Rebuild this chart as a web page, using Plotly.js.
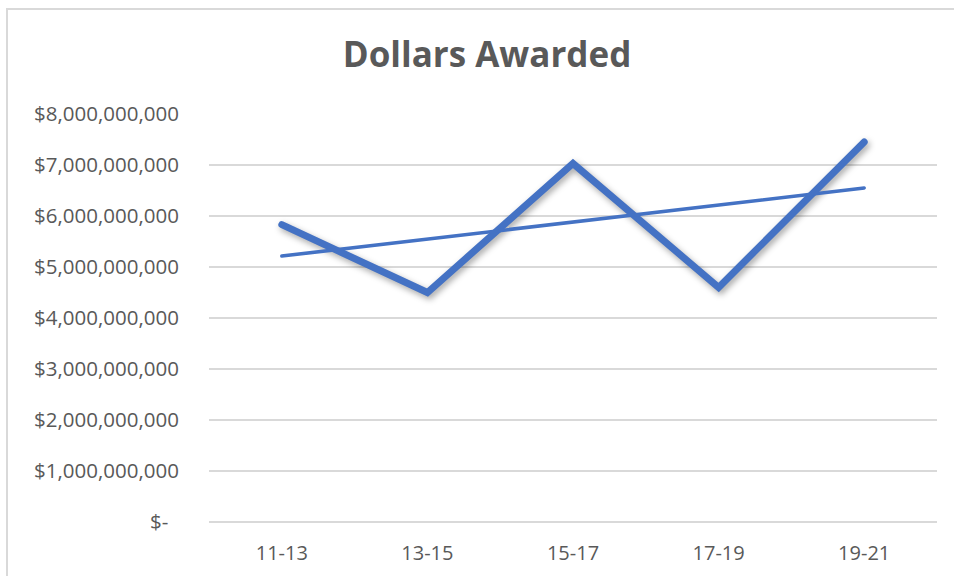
<!DOCTYPE html>
<html>
<head>
<meta charset="utf-8">
<script src="https://cdn.plot.ly/plotly-3.0.1.min.js"></script>
<style>
  html, body { margin: 0; padding: 0; background: #fff; }
  #wrap { position: relative; width: 954px; height: 576px; overflow: hidden; }
  #chart { width: 954px; height: 576px; }
  #frame { position: absolute; left: 6px; top: 8px; width: 960px; height: 600px;
           border-left: 2px solid #d9d9d9; border-top: 2px solid #d9d9d9; pointer-events: none; }
</style>
</head>
<body>
<div id="wrap">
  <div id="chart"></div>
  <div id="frame"></div>
</div>
<script>
// ---- data ----
const periods = ["11-13", "13-15", "15-17", "17-19", "19-21"];
const dollarsAwarded = [5830000000, 4500000000, 7030000000, 4600000000, 7450000000];
const yTickVals = [0, 1e9, 2e9, 3e9, 4e9, 5e9, 6e9, 7e9, 8e9];
const yTickText = ["$-\u00a0\u00a0", "$1,000,000,000", "$2,000,000,000", "$3,000,000,000",
                   "$4,000,000,000", "$5,000,000,000", "$6,000,000,000", "$7,000,000,000",
                   "$8,000,000,000"];

// Linear trendline (least squares, as Excel computes it) from the series
const n = dollarsAwarded.length;
const idx = dollarsAwarded.map((_, i) => i + 1);
const mx = idx.reduce((a, b) => a + b, 0) / n;
const my = dollarsAwarded.reduce((a, b) => a + b, 0) / n;
let sxy = 0, sxx = 0;
for (let i = 0; i < n; i++) { sxy += (idx[i] - mx) * (dollarsAwarded[i] - my); sxx += (idx[i] - mx) ** 2; }
const slope = sxy / sxx, intercept = my - slope * mx;
const trend = idx.map(x => intercept + slope * x);

const blue = "#4472C4";
const grey = "#595959";
const font = "'Open Sans', 'Liberation Sans', sans-serif";

const traces = [
  { x: periods, y: dollarsAwarded, type: "scatter", mode: "lines", name: "Dollars Awarded",
    line: { color: blue, width: 7 }, hoverinfo: "x+y" },
  { x: periods, y: trend, type: "scatter", mode: "lines", name: "Linear trend",
    line: { color: blue, width: 3.5 }, hoverinfo: "skip" }
];

const layout = {
  width: 954, height: 576,
  paper_bgcolor: "rgba(0,0,0,0)", plot_bgcolor: "rgba(0,0,0,0)",
  margin: { l: 209, r: 17, t: 114, b: 54 },
  showlegend: false,
  title: { text: "<b>Dollars Awarded</b>", font: { family: font, size: 35, color: grey },
           x: 0.5105, xanchor: "center", xref: "container", y: 0.905, yanchor: "middle", yref: "container" },
  xaxis: {
    type: "category", range: [-0.5, 4.5], showgrid: false, zeroline: false, showline: false,
    ticks: "outside", ticklen: 13, tickcolor: "rgba(0,0,0,0)",
    tickfont: { family: font, size: 20, color: grey }, fixedrange: true
  },
  yaxis: {
    range: [0, 8e9], tickmode: "array", tickvals: yTickVals, ticktext: yTickText,
    showgrid: true, gridcolor: "#d9d9d9", gridwidth: 1.4,
    zeroline: true, zerolinecolor: "#d9d9d9", zerolinewidth: 1.4, showline: false,
    ticks: "outside", ticklen: 25, tickcolor: "rgba(0,0,0,0)",
    tickfont: { family: font, size: 20.5, color: grey }, fixedrange: true
  }
};

Plotly.newPlot("chart", traces, layout, { displayModeBar: false, staticPlot: true }).then(() => {
  const lines = document.querySelectorAll("#chart .scatterlayer .trace path.js-line");
  lines.forEach((p, i) => {
    p.style.strokeLinecap = "round";
    p.style.strokeLinejoin = "miter";
    if (i === 0) p.style.filter = "drop-shadow(2px 3px 3px rgba(0,0,0,0.35))";
  });
});
</script>
</body>
</html>
